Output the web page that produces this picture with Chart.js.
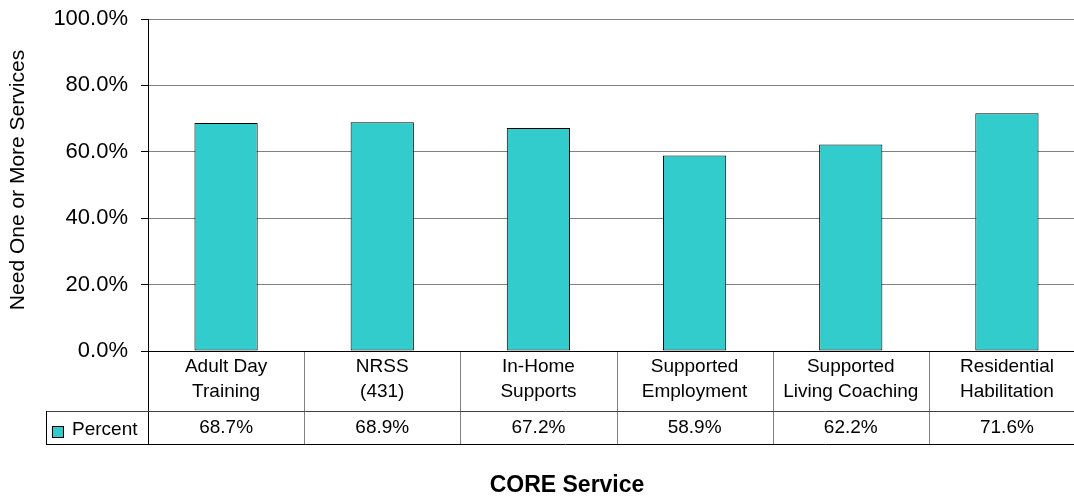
<!DOCTYPE html>
<html>
<head>
<meta charset="utf-8">
<title>CORE Service</title>
<script src="https://cdn.jsdelivr.net/npm/chart.js@4.4.0/dist/chart.umd.min.js"></script>
<style>
  html, body { margin: 0; padding: 0; background: #fff; overflow: hidden; }
  #wrap { width: 1090px; height: 499px; }
</style>
</head>
<body>
<div id="wrap"><canvas id="core-chart" width="1090" height="499"></canvas></div>
<script>
// Categories (two lines each, as shown in the table header row)
const categories = [
  ['Adult Day', 'Training'],
  ['NRSS', '(431)'],
  ['In-Home', 'Supports'],
  ['Supported', 'Employment'],
  ['Supported', 'Living Coaching'],
  ['Residential', 'Habilitation']
];

// Percent needing one or more services
const percentValues = [68.7, 68.9, 67.2, 58.9, 62.2, 71.6];

const seriesName = 'Percent';
const yTicks = [0, 20, 40, 60, 80, 100];
const yAxisTitle = 'Need One or More Services';
const xAxisTitle = 'CORE Service';

const barColor = '#33cccc';
const fontFamily = '"Liberation Sans", Arial, sans-serif';

// Draws the data table under the plot, plus both axis titles
const dataTablePlugin = {
  id: 'dataTable',
  afterDraw(chart) {
    const ctx = chart.ctx;
    const area = chart.chartArea;
    const x = chart.scales.x;
    const n = categories.length;
    const step = x.getPixelForValue(1) - x.getPixelForValue(0);
    const rowTop = area.bottom;
    const rowMid = rowTop + 60;
    const rowBottom = rowMid + 33;
    const tableLeft = 46;
    const tableRight = area.right;

    const hline = (x1, x2, y, color) => {
      ctx.strokeStyle = color;
      ctx.beginPath();
      ctx.moveTo(x1, Math.round(y) + 0.5);
      ctx.lineTo(x2, Math.round(y) + 0.5);
      ctx.stroke();
    };
    const vline = (xx, y1, y2, color) => {
      ctx.strokeStyle = color;
      ctx.beginPath();
      ctx.moveTo(Math.round(xx) + 0.5, y1);
      ctx.lineTo(Math.round(xx) + 0.5, y2);
      ctx.stroke();
    };

    ctx.save();
    ctx.lineWidth = 1;

    // category separators
    for (let i = 1; i < n; i++) {
      const bx = x.getPixelForValue(i) - step / 2;
      vline(bx, rowTop, rowBottom, '#808080');
    }
    // axis line and its extension through the table
    hline(area.left - 7, tableRight, rowTop, '#000');
    vline(area.left, rowTop, rowBottom, '#000');
    // value row box
    hline(tableLeft, tableRight, rowMid, '#404040');
    hline(tableLeft, tableRight, rowBottom, '#000');
    vline(tableLeft, rowMid, rowBottom, '#000');

    // header and value text
    ctx.fillStyle = '#000';
    ctx.font = '19px ' + fontFamily;
    ctx.textAlign = 'center';
    ctx.textBaseline = 'middle';
    categories.forEach((lines, i) => {
      const cx = x.getPixelForValue(i);
      lines.forEach((line, j) => ctx.fillText(line, cx, rowTop + 16 + j * 25));
      ctx.fillText(percentValues[i].toFixed(1) + '%', cx, rowMid + 17);
    });

    // legend key
    ctx.fillStyle = barColor;
    ctx.fillRect(52, rowMid + 15, 11, 11);
    ctx.strokeStyle = '#000';
    ctx.strokeRect(52.5, rowMid + 15.5, 11, 11);
    ctx.fillStyle = '#000';
    ctx.textAlign = 'left';
    ctx.fillText(seriesName, 72, rowMid + 19);

    // y axis title
    ctx.save();
    ctx.translate(18, 180);
    ctx.rotate(-Math.PI / 2);
    ctx.textAlign = 'center';
    ctx.font = '21px ' + fontFamily;
    ctx.fillText(yAxisTitle, 0, 0);
    ctx.restore();

    // x axis title
    ctx.font = 'bold 23px ' + fontFamily;
    ctx.textAlign = 'center';
    ctx.fillText(xAxisTitle, 567, 486);

    ctx.restore();
  }
};

new Chart(document.getElementById('core-chart'), {
  type: 'bar',
  data: {
    labels: categories.map(c => c.join(' ')),
    datasets: [{
      label: seriesName,
      data: percentValues,
      backgroundColor: barColor,
      borderColor: '#000',
      borderWidth: 1,
      borderSkipped: false,
      barPercentage: 0.405,
      categoryPercentage: 1
    }]
  },
  options: {
    responsive: false,
    animation: false,
    layout: { padding: { left: 0, right: 5, top: 19, bottom: 148 } },
    plugins: {
      legend: { display: false },
      tooltip: { enabled: false }
    },
    scales: {
      x: { display: false },
      y: {
        min: 0,
        max: 100,
        afterFit(scale) {
          scale.width = 148;
          // labels at the ends may overhang; keep the plot edges fixed
          scale.paddingTop = 0;
          scale.paddingBottom = 0;
        },
        afterBuildTicks(scale) { scale.ticks = yTicks.map(v => ({ value: v })); },
        ticks: {
          color: '#000',
          padding: 13,
          font: { family: fontFamily, size: 22 },
          callback: v => v.toFixed(1) + '%'
        },
        grid: {
          color: '#808080',
          tickColor: '#000',
          tickLength: 7,
          drawTicks: true
        },
        border: { display: true, color: '#000' }
      }
    }
  },
  plugins: [dataTablePlugin]
});
</script>
</body>
</html>
